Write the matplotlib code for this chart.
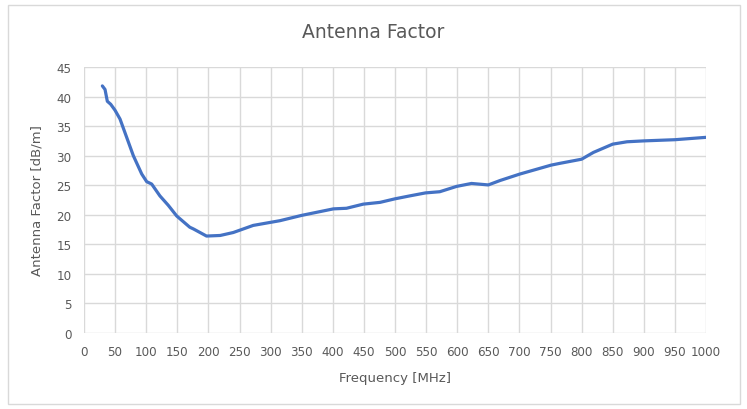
import matplotlib
matplotlib.use("Agg")
import matplotlib.pyplot as plt
from matplotlib.patches import Rectangle

freq_mhz = [29.5, 33.8, 37.5, 42.9, 49.8, 57.9, 68.6, 79.3, 92.8, 100.8, 108.8, 122, 135.5,
            149, 170, 176, 197, 219, 240, 272, 315, 350, 401, 422, 449, 476, 500, 524, 549,
            572, 599, 623, 650, 669, 701, 751, 765, 800, 819, 850, 873, 900, 950, 1000]
antenna_factor = [41.8, 41.2, 39.2, 38.7, 37.7, 36.2, 33.1, 30.0, 26.9, 25.6, 25.2, 23.2, 21.6,
                  19.8, 17.9, 17.6, 16.4, 16.5, 17.0, 18.2, 19.0, 19.9, 21.0, 21.1, 21.8, 22.1,
                  22.7, 23.2, 23.7, 23.9, 24.8, 25.3, 25.05, 25.8, 26.9, 28.4, 28.7, 29.4, 30.55,
                  31.95, 32.35, 32.5, 32.7, 33.1]
x_ticks = list(range(0, 1001, 50))
y_ticks = list(range(0, 46, 5))

plt.rcParams['font.family'] = ['DejaVu Sans']
txt = '#595959'
grid = '#d9d9d9'

fig = plt.figure(figsize=(7.47, 4.10), dpi=100)
fig.patches.append(Rectangle((8/747, 5/410), 732/747, 399/410, transform=fig.transFigure,
                             fill=False, edgecolor='#d9d9d9', linewidth=1.0))
ax = fig.add_axes([84/747, 1-334/410, 622/747, 266/410])
ax.plot(freq_mhz, antenna_factor, color='#4472C4', linewidth=2.3,
        solid_capstyle='round', solid_joinstyle='round')
ax.set_xlim(0, 1000)
ax.set_ylim(0, 45)
ax.set_xticks(x_ticks)
ax.set_yticks(y_ticks)
ax.grid(True, color=grid, linewidth=1.0)
ax.set_axisbelow(True)
for s in ax.spines.values():
    s.set_visible(False)
ax.tick_params(length=0, labelsize=8.6, colors=txt, pad=9)
ax.set_xlabel('Frequency [MHz]', fontsize=9.5, color=txt, labelpad=9)
ax.set_ylabel('Antenna Factor [dB/m]', fontsize=9.5, color=txt, labelpad=9)
fig.text(0.5, 1-33/410, 'Antenna Factor', ha='center', va='center', fontsize=13.5, color=txt)
fig.savefig('out.png', dpi=100)
